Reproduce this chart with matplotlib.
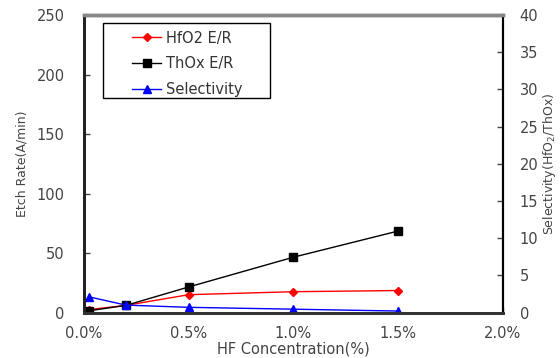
import matplotlib
matplotlib.use("Agg")
import matplotlib.pyplot as plt
from matplotlib.ticker import FixedLocator
from matplotlib.patches import Rectangle

hf_conc = [0.025, 0.2, 0.5, 1.0, 1.5]
hfo2_er = [2.5, 6.0, 15.0, 17.5, 18.5]
thox_er = [1.5, 6.0, 21.5, 46.5, 68.5]
selectivity = [2.1, 1.0, 0.7, 0.45, 0.2]
x_ticks = [0.0, 0.5, 1.0, 1.5, 2.0]
x_labels = ["0.0%", "0.5%", "1.0%", "1.5%", "2.0%"]
left_ticks = [0, 50, 100, 150, 200, 250]
right_ticks = [0, 5, 10, 15, 20, 25, 30, 35, 40]

plt.rcParams['font.family'] = ['DejaVu Sans']
tc = '#444444'

fig = plt.figure(figsize=(5.6, 3.58), dpi=100)
ax = fig.add_axes([0.150, 0.127, 0.748, 0.831])
ax2 = ax.twinx()

l1, = ax.plot(hf_conc, hfo2_er, color='red', marker='D', markersize=4, lw=1, label='HfO2 E/R')
l2, = ax.plot(hf_conc, thox_er, color='black', marker='s', markersize=6, lw=1, label='ThOx E/R')
l3, = ax2.plot(hf_conc, selectivity, color='blue', marker='^', markersize=6, lw=1, label='Selectivity')

ax.set_xlim(0, 2.0)
ax.set_ylim(0, 250)
ax2.set_ylim(0, 40)
ax.xaxis.set_major_locator(FixedLocator(x_ticks))
ax.set_xticklabels(x_labels)
ax.set_yticks(left_ticks)
ax2.set_yticks(right_ticks)

for a in (ax, ax2):
    a.tick_params(direction='in', labelsize=10.5, colors=tc, length=4, width=1)
ax.tick_params(axis='x', pad=10)
ax.tick_params(axis='y', pad=14)
ax2.tick_params(axis='y', pad=12)
for a in (ax, ax2):
    a.spines['left'].set_color('#222222'); a.spines['left'].set_linewidth(2)
    a.spines['bottom'].set_color('#333333'); a.spines['bottom'].set_linewidth(2)
    a.spines['top'].set_color('#888888'); a.spines['top'].set_linewidth(2.5)
    a.spines['right'].set_color('black'); a.spines['right'].set_linewidth(1.5)

ax.set_xlabel('HF Concentration(%)', fontsize=10.5, color=tc, labelpad=0)
ax.set_ylabel('Etch Rate(A/min)', fontsize=9, color=tc, labelpad=6)
ax2.set_ylabel('Selectivity(HfO$_2$/ThOx)', fontsize=9, color=tc, labelpad=2)

frame = Rectangle((0.0454, 0.720), 0.3986, 0.252, transform=ax2.transAxes,
                  facecolor='white', edgecolor='black', lw=1, zorder=4)
ax2.add_patch(frame)
leg = ax2.legend(handles=[l1, l2, l3], loc='upper left', bbox_to_anchor=(0.1146, 0.948),
                 fontsize=10.5, frameon=False, borderpad=0, borderaxespad=0,
                 handlelength=2.0, labelspacing=0.75, handletextpad=0.35)
leg.set_zorder(5)
for t in leg.get_texts():
    t.set_color('#333333')

fig.savefig('out.png', dpi=100)
